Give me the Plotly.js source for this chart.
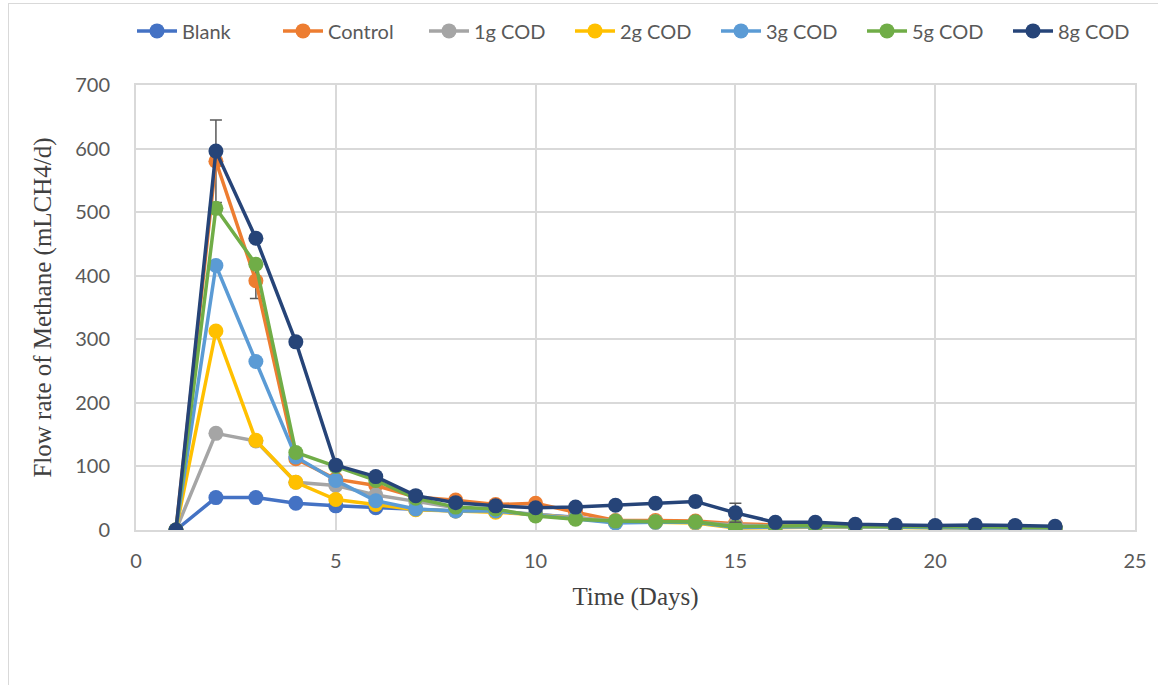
<!DOCTYPE html>
<html>
<head>
<meta charset="utf-8">
<script src="https://cdn.plot.ly/plotly-3.0.1.min.js"></script>
<style>
  html, body { margin: 0; padding: 0; background: #ffffff; }
  #frame { position: absolute; left: 8px; top: 3px; width: 1160px; height: 700px; border: 1px solid #d9d9d9; box-sizing: border-box; pointer-events: none; }
  #chart { position: absolute; left: 0; top: 0; width: 1158px; height: 685px; }
</style>
</head>
<body>
<div id="chart"></div>
<div id="frame"></div>
<script>
const days = [1,2,3,4,5,6,7,8,9,10,11,12,13,14,15,16,17,18,19,20,21,22,23];

const blank   = [0, 51, 51, 42, 38, 35, 33, 30, 29, 25, 20, 12, 13, 12, 5, 5, 6, 5, 5, 4, 4, 4, 3];
const control = [0, 580, 392, 112, 80, 70, 52, 47, 40, 42, 28, 15, 15, 14, 10, 8, 8, 7, 6, 5, 5, 5, 4];
const cod1g   = [0, 152, 140, 75, 70, 55, 45, 35, 30, 25, 20, 14, 13, 12, 8, 6, 6, 5, 5, 4, 4, 4, 3];
const cod2g   = [0, 313, 141, 75, 48, 40, 32, 30, 28, 24, 18, 12, 12, 11, 3, 4, 5, 5, 4, 3, 3, 3, 2];
const cod3g   = [0, 416, 265, 115, 78, 46, 33, 30, 30, 24, 18, 11, 12, 12, 4, 5, 5, 5, 4, 4, 3, 3, 3];
const cod5g   = [0, 506, 418, 122, 100, 78, 50, 36, 33, 22, 17, 14, 13, 13, 5, 6, 7, 6, 5, 5, 5, 5, 4];
const cod8g   = [0, 596, 459, 296, 102, 84, 54, 43, 38, 35, 36, 39, 42, 45, 27, 12, 12, 9, 8, 7, 8, 7, 6];

const controlErr = [null, 65, 28, null, null, null, null, null, null, null, null, null, null, null, null, null, null, null, null, null, null, null, null];
const cod8gErr   = [null, null, null, null, null, null, null, null, null, null, null, null, null, null, 15, null, null, null, null, null, null, null, null];

const seriesNames = ["Blank", "Control", "1g COD", "2g COD", "3g COD", "5g COD", "8g COD"];
const seriesData = [blank, control, cod1g, cod2g, cod3g, cod5g, cod8g];
const seriesColors = ["#4472C4", "#ED7D31", "#A5A5A5", "#FFC000", "#5B9BD5", "#70AD47", "#264478"];
const seriesErr = [null, controlErr, null, null, null, null, cod8gErr];

const traces = seriesNames.map((name, i) => {
  const t = {
    type: "scatter",
    mode: "lines+markers",
    name: name,
    x: days,
    y: seriesData[i],
    line: { color: seriesColors[i], width: 3.5 },
    marker: { color: seriesColors[i], size: 15 },
    hoverinfo: "skip"
  };
  if (seriesErr[i]) {
    t.error_y = { type: "data", array: seriesErr[i], visible: true, color: "#595959", thickness: 1.5, width: 6 };
  }
  return t;
});

const tickFont = { family: "Lato, 'Open Sans', sans-serif", size: 20, color: "#595959" };
const titleFont = { family: "'Liberation Serif', 'Times New Roman', serif", size: 25, color: "#404040" };

const layout = {
  width: 1158,
  height: 685,
  margin: { l: 136, r: 23, t: 84, b: 155 },
  paper_bgcolor: "rgba(0,0,0,0)",
  plot_bgcolor: "#ffffff",
  showlegend: true,
  legend: {
    orientation: "h",
    x: -0.004, xanchor: "left",
    y: 1.119, yanchor: "middle",
    font: { family: "Lato, 'Open Sans', sans-serif", size: 20, color: "#595959" },
    itemwidth: 40,
    entrywidth: 91,
    entrywidthmode: "pixels",
    traceorder: "normal"
  },
  xaxis: {
    range: [0, 25],
    tick0: 0, dtick: 5,
    showgrid: true, gridcolor: "#d9d9d9", gridwidth: 2,
    zeroline: false,
    showline: true, linecolor: "#d9d9d9", linewidth: 2, mirror: true,
    ticks: "",
    ticklabelstandoff: 12,
    tickfont: tickFont,
    title: { text: "Time (Days)", font: titleFont, standoff: 16 }
  },
  yaxis: {
    range: [0, 700],
    tick0: 0, dtick: 100,
    showgrid: true, gridcolor: "#d9d9d9", gridwidth: 2,
    zeroline: false,
    showline: true, linecolor: "#d9d9d9", linewidth: 2, mirror: true,
    ticks: "",
    ticklabelstandoff: 20,
    tickfont: tickFont,
    title: { text: "Flow rate of Methane (mLCH4/d)", font: titleFont, standoff: 16 }
  }
};

Plotly.newPlot("chart", traces, layout, { displayModeBar: false, staticPlot: true });
</script>
</body>
</html>
